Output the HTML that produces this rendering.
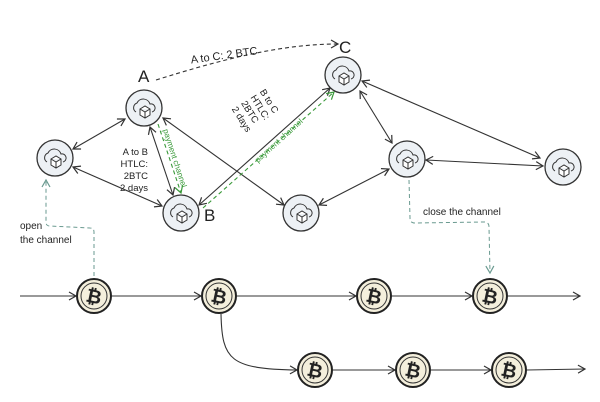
<!DOCTYPE html>
<html><head><meta charset="utf-8"><style>
html,body{margin:0;padding:0;background:#fff;}
svg{display:block;}
text{font-family:"Liberation Sans",sans-serif;fill:#222;}
</style></head><body>
<svg width="600" height="402" viewBox="0 0 600 402" xmlns="http://www.w3.org/2000/svg">
<defs>
<marker id="ah" markerWidth="10" markerHeight="10" refX="8" refY="5" orient="auto-start-reverse" markerUnits="userSpaceOnUse">
<path d="M1,1 L8,5 L1,9" fill="none" stroke="#333" stroke-width="1.2"/></marker>
<marker id="ag" markerWidth="10" markerHeight="10" refX="8" refY="5" orient="auto-start-reverse" markerUnits="userSpaceOnUse">
<path d="M1,1 L8,5 L1,9" fill="none" stroke="#3a9a3a" stroke-width="1.2"/></marker>
<marker id="at" markerWidth="10" markerHeight="10" refX="8" refY="5" orient="auto-start-reverse" markerUnits="userSpaceOnUse">
<path d="M1,1 L8,5 L1,9" fill="none" stroke="#6a9a90" stroke-width="1.2"/></marker>
<g id="node">
<circle r="18" fill="#edf1f5" stroke="#333" stroke-width="1.3"/>
<path d="M-8,4 a5,5 0 0 1 1,-9 a7,7 0 0 1 13,1 a4,4 0 0 1 2,8" fill="none" stroke="#333" stroke-width="1"/>
<path d="M-4,1 L1,-2 L6,1 L6,7 L1,10 L-4,7 Z M-4,1 L1,4 L6,1 M1,4 L1,10" fill="#fff" stroke="#333" stroke-width="1"/>
</g>
<g id="coin">
<circle r="17" fill="#f4efdc" stroke="#222" stroke-width="2"/>
<circle r="13" fill="none" stroke="#333" stroke-width="1"/>
<text x="0" y="7" font-size="19" text-anchor="middle" transform="rotate(12)" style="font-weight:bold">₿</text>
</g>
</defs>
<g fill="none" stroke="#333" stroke-width="1.1">
<line x1="73" y1="149" x2="125" y2="119" marker-start="url(#ah)" marker-end="url(#ah)"/>
<line x1="73" y1="167" x2="162" y2="206" marker-start="url(#ah)" marker-end="url(#ah)"/>
<line x1="150" y1="127" x2="173" y2="195" marker-start="url(#ah)" marker-end="url(#ah)"/>
<line x1="163" y1="118" x2="284" y2="205" marker-start="url(#ah)" marker-end="url(#ah)"/>
<line x1="199" y1="205" x2="330" y2="88" marker-start="url(#ah)" marker-end="url(#ah)"/>
<line x1="360" y1="91" x2="392" y2="143" marker-start="url(#ah)" marker-end="url(#ah)"/>
<line x1="362" y1="81" x2="540" y2="158" marker-start="url(#ah)" marker-end="url(#ah)"/>
<line x1="426" y1="160" x2="543" y2="166" marker-start="url(#ah)" marker-end="url(#ah)"/>
<line x1="319" y1="205" x2="389" y2="169" marker-start="url(#ah)" marker-end="url(#ah)"/>
<path d="M156,80 C220,60 280,44 338,44" stroke-dasharray="4,3" marker-end="url(#ah)"/>
<line x1="20" y1="296" x2="76" y2="296" marker-end="url(#ah)"/>
<line x1="112" y1="296" x2="201" y2="296" marker-end="url(#ah)"/>
<line x1="237" y1="296" x2="356" y2="296" marker-end="url(#ah)"/>
<line x1="392" y1="296" x2="472" y2="296" marker-end="url(#ah)"/>
<line x1="508" y1="296" x2="580" y2="296" marker-end="url(#ah)"/>
<path d="M221,314 C222,360 230,369 297,370" marker-end="url(#ah)"/>
<line x1="333" y1="370" x2="395" y2="370" marker-end="url(#ah)"/>
<line x1="431" y1="370" x2="491" y2="370" marker-end="url(#ah)"/>
<line x1="527" y1="370" x2="585" y2="369" marker-end="url(#ah)"/>
</g>
<g fill="none" stroke="#3a9a3a" stroke-width="1.1" stroke-dasharray="4,3">
<line x1="158" y1="124" x2="181" y2="193" marker-end="url(#ag)"/>
<line x1="203" y1="208" x2="334" y2="92" marker-end="url(#ag)"/>
</g>
<g fill="none" stroke="#6a9a90" stroke-width="1" stroke-dasharray="4,3">
<path d="M94,276 L94,232 Q94,228 90,228 L50,226 Q46,226 46,222 L46,180" marker-end="url(#at)"/>
<path d="M409,180 L410,218 Q410,223 415,223 L484,222 Q489,222 489,227 L490,273" marker-end="url(#at)"/>
</g>
<use href="#node" x="55" y="158"/>
<use href="#node" x="144" y="108"/>
<use href="#node" x="181" y="213"/>
<use href="#node" x="301" y="213"/>
<use href="#node" x="343" y="75"/>
<use href="#node" x="407" y="159"/>
<use href="#node" x="563" y="167"/>
<use href="#coin" x="94" y="296"/>
<use href="#coin" x="219" y="296"/>
<use href="#coin" x="374" y="296"/>
<use href="#coin" x="490" y="296"/>
<use href="#coin" x="315" y="370"/>
<use href="#coin" x="413" y="370"/>
<use href="#coin" x="509" y="370"/>
<text x="138" y="82" font-size="17">A</text>
<text x="204" y="221" font-size="17">B</text>
<text x="339" y="53" font-size="17">C</text>
<text x="190" y="58" font-size="11" transform="rotate(-8 230 52)">A to C: 2 BTC</text>
<g font-size="9.5" text-anchor="end">
<text x="148" y="155">A to B</text>
<text x="148" y="167">HTLC:</text>
<text x="148" y="179">2BTC</text>
<text x="148" y="191">2 days</text>
</g>
<g font-size="9.5" transform="translate(18,14) rotate(58 250 110)">
<text x="218" y="100">B to C</text>
<text x="218" y="111">HTLC:</text>
<text x="218" y="122">2BTC</text>
<text x="218" y="133">2 days</text>
</g>
<text x="0" y="0" font-size="8" style="fill:#3a9a3a" transform="translate(163,130) rotate(72)">payment channel</text>
<text x="0" y="0" font-size="8" style="fill:#3a9a3a" transform="translate(258,163) rotate(-42)">payment channel</text>
<text x="20" y="229" font-size="10">open</text>
<text x="20" y="243" font-size="10">the channel</text>
<text x="423" y="215" font-size="10">close the channel</text>
</svg>
</body></html>
